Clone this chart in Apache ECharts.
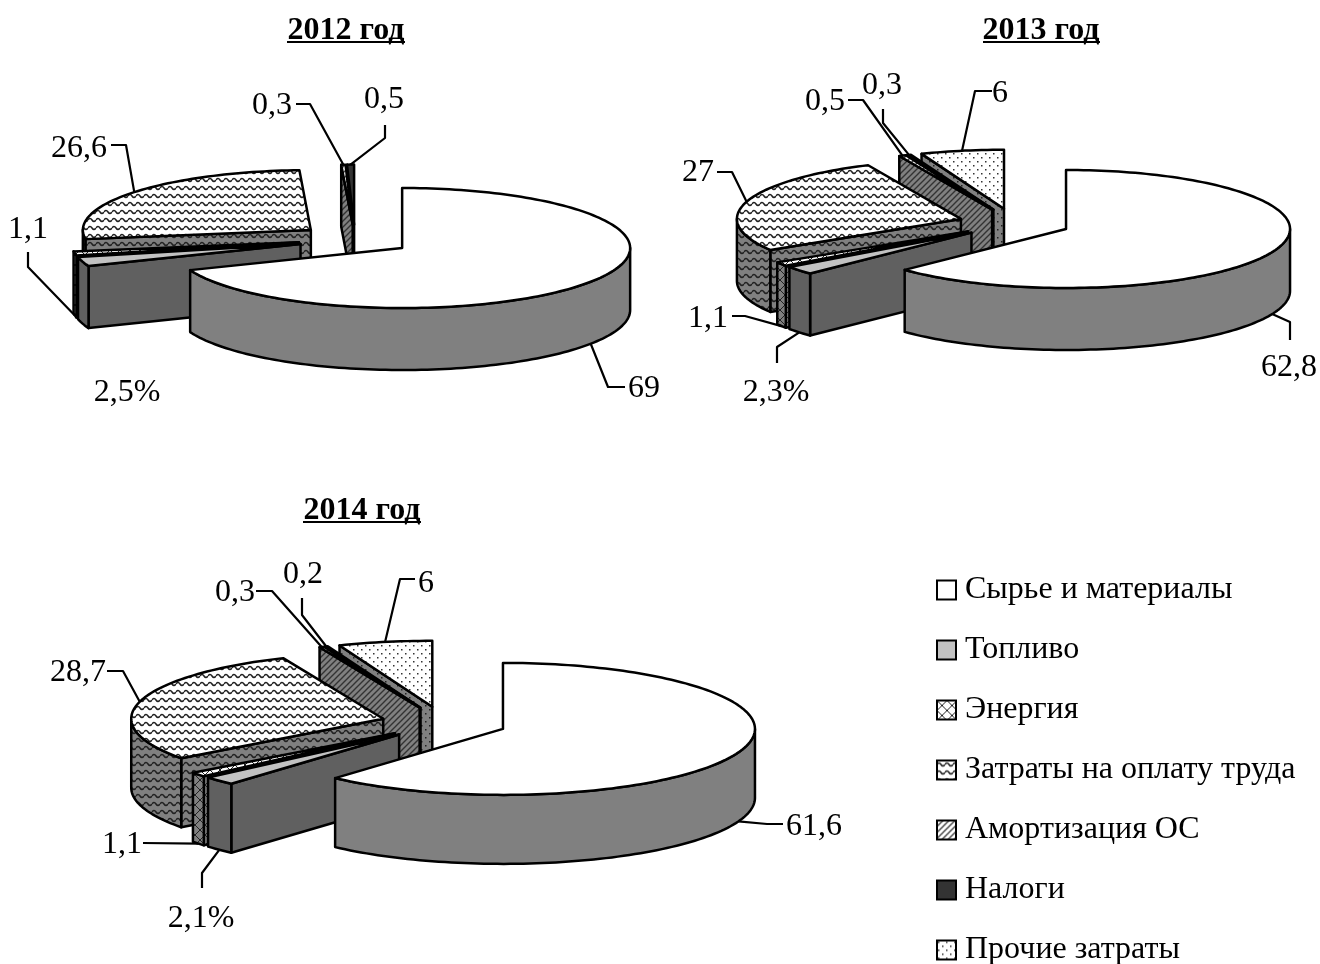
<!DOCTYPE html>
<html>
<head>
<meta charset="utf-8">
<title>Структура затрат</title>
<style>html,body{margin:0;padding:0;background:#fff}#chart{width:1320px;height:964px}</style>
<script src="https://cdn.jsdelivr.net/npm/echarts@6/dist/echarts.min.js"></script>
</head>
<body>
<div id="chart"></div>
<script>
// Cost structure by year, percent of total
const categories = ['Сырье и материалы', 'Топливо', 'Энергия', 'Затраты на оплату труда', 'Амортизация ОС', 'Налоги', 'Прочие затраты'];
const years = ['2012 год', '2013 год', '2014 год'];
const shares2012 = [69, 2.5, 1.1, 26.6, 0.3, 0.5, 0];
const shares2013 = [62.8, 2.3, 1.1, 27, 0.5, 0.3, 6];
const shares2014 = [61.6, 2.1, 1.1, 28.7, 0.3, 0.2, 6];
const sharesByYear = [shares2012, shares2013, shares2014];

// Pie geometry in pixels: ellipse centre, radii, wall height, slice explosion
const pieGeometry = [
  { cx: 355, cy: 239.6, rx: 228, ry: 60, h: 62, burst: 57 },
  { cx: 1014.5, cy: 223.2, rx: 224, ry: 59, h: 62, burst: 56 },
  { cx: 444.1, cy: 723, rx: 252, ry: 66, h: 69, burst: 63 }
];
const titlePlacement = [
  { x: 346, y: 29, u: [287, 405] },
  { x: 1041, y: 29, u: [983, 1100] },
  { x: 362, y: 509, u: [303, 421] }
];
// Label centre and the leader's fixed points; the leader's last point comes from the slice
const labelPlacement = [
  [
    { at: [644, 389], path: [[625, 387], [608, 387]] },
    { at: [127, 393], path: [] },
    { at: [28, 230], path: [[28, 252], [28, 267]] },
    { at: [79, 149], path: [[111, 145], [126, 145]] },
    { at: [272, 106], path: [[296, 104], [310, 104]] },
    { at: [384, 100], path: [[385, 125], [385, 138]] },
    null
  ],
  [
    { at: [1289, 368], path: [[1290, 340], [1290, 322]] },
    { at: [776, 393], path: [[777, 363], [777, 347]] },
    { at: [708, 319], path: [[732, 316], [745, 316]] },
    { at: [698, 173], path: [[717, 172], [732, 172]] },
    { at: [825, 102], path: [[848, 100], [863, 100]] },
    { at: [882, 86], path: [[883, 109], [883, 123]] },
    { at: [1000, 94], path: [[992, 91], [975, 91]] }
  ],
  [
    { at: [814, 827], path: [[783, 824], [767, 824]] },
    { at: [201, 919], path: [[202, 888], [202, 873]] },
    { at: [122, 845], path: [[143, 843]] },
    { at: [78, 673], path: [[107, 671], [123, 671]] },
    { at: [235, 593], path: [[256, 591], [272, 591]] },
    { at: [303, 575], path: [[302, 598], [302, 615]] },
    { at: [426, 584], path: [[415, 579], [400, 579]] }
  ]
];

const SERIF = '"Liberation Serif", "Times New Roman", serif';
const INK = '#000';
const EDGE = 2.5;

// Tiled fills, each painted on a small canvas
function tile(w, h, bg, draw) {
  const c = document.createElement('canvas');
  c.width = w; c.height = h;
  const g = c.getContext('2d');
  g.fillStyle = bg; g.fillRect(0, 0, w, h);
  draw(g);
  return { image: c, repeat: 'repeat' };
}
const wave = (bg, ink) => tile(8, 8, bg, g => {
  g.strokeStyle = ink; g.lineWidth = 1.5;
  g.beginPath();
  g.moveTo(0, 4);
  g.bezierCurveTo(1.3, 2, 2.7, 2, 4, 4);
  g.bezierCurveTo(5.3, 6, 6.7, 6, 8, 4);
  g.stroke();
});
const cross = (bg, ink) => tile(10, 10, bg, g => {
  g.strokeStyle = ink; g.lineWidth = 1;
  g.beginPath(); g.moveTo(0, 0); g.lineTo(10, 10); g.moveTo(10, 0); g.lineTo(0, 10); g.stroke();
});
const hatch = (bg, ink) => tile(6, 6, bg, g => {
  g.strokeStyle = ink; g.lineWidth = 1.4;
  g.beginPath(); g.moveTo(-1, 7); g.lineTo(7, -1); g.moveTo(-4, 4); g.lineTo(4, -4); g.moveTo(2, 10); g.lineTo(10, 2); g.stroke();
});
const dots = (bg, ink) => tile(8, 8, bg, g => {
  g.fillStyle = ink;
  g.fillRect(1, 1, 1.5, 1.5); g.fillRect(5, 5, 1.5, 1.5);
});

const topFills = ['#ffffff', '#c2c2c2', cross('#ffffff', '#222'), wave('#ffffff', '#222'), hatch('#ffffff', '#444'), '#333333', dots('#ffffff', '#333')];
const wallFills = ['#808080', '#606060', cross('#808080', '#222'), wave('#808080', '#222'), hatch('#808080', '#333'), '#1a1a1a', dots('#808080', '#222')];

const rad = d => d * Math.PI / 180;
// Screen point of a clock angle (0 = up, clockwise) on a slice's top ellipse
function rim(p, apex, deg) {
  return [apex[0] + p.rx * Math.sin(rad(deg)), apex[1] - p.ry * Math.cos(rad(deg))];
}
function arc(p, apex, from, to, dy) {
  const pts = [];
  const n = Math.max(2, Math.ceil(Math.abs(to - from) / 1.5));
  for (let i = 0; i <= n; i++) {
    const q = rim(p, apex, from + (to - from) * i / n);
    pts.push([q[0], q[1] + dy]);
  }
  return pts;
}
const outlined = (points, fill) => ({
  type: 'polygon',
  shape: { points },
  style: { fill, stroke: INK, lineWidth: EDGE, lineJoin: 'round' },
  silent: true
});
const formatShare = (v, cat) => String(v).replace('.', ',') + (cat === 1 ? '%' : '');

function renderSlice(cat) {
  return function (params, api) {
    const yearIdx = api.value(0);
    const value = api.value(1);
    if (!value) return null;
    const a0 = api.value(2) * 3.6;
    const a1 = a0 + value * 3.6;
    const mid = (a0 + a1) / 2;
    const p = pieGeometry[yearIdx];
    const apex = [
      p.cx + p.burst * Math.sin(rad(mid)),
      p.cy - p.burst * Math.cos(rad(mid)) * p.ry / p.rx
    ];
    const children = [];
    const face = deg => {
      const o = rim(p, apex, deg);
      return outlined([apex, o, [o[0], o[1] + p.h], [apex[0], apex[1] + p.h]], wallFills[cat]);
    };
    // Cut faces turned to the viewer, then the outer wall, then the top
    if (a1 > 0 && a1 < 180) children.push(face(a1));
    if (a0 > 180 && a0 < 360) children.push(face(a0));
    const w0 = Math.max(a0, 90), w1 = Math.min(a1, 270);
    if (w1 > w0) {
      children.push(outlined(arc(p, apex, w0, w1, 0).concat(arc(p, apex, w1, w0, p.h)), wallFills[cat]));
    }
    children.push(outlined([apex].concat(arc(p, apex, a0, a1, 0)), topFills[cat]));

    const place = labelPlacement[yearIdx][cat];
    if (place) {
      if (place.path.length) {
        const m = rim(p, apex, mid);
        const front = mid > 90 && mid < 270;
        const anchor = [m[0], m[1] + (front ? p.h : 0)];
        children.push({
          type: 'polyline',
          shape: { points: place.path.concat([anchor]) },
          style: { fill: null, stroke: INK, lineWidth: 2.2, lineJoin: 'round' },
          silent: true
        });
      }
      children.push({
        type: 'text',
        x: place.at[0], y: place.at[1],
        style: {
          text: formatShare(value, cat),
          fill: INK,
          font: '32px ' + SERIF,
          align: 'center',
          verticalAlign: 'middle'
        },
        silent: true
      });
    }
    return { type: 'group', children };
  };
}

// One series per cost item, painted from the back slice to the front one
function cumulative(yearIdx, cat) {
  let sum = 0;
  for (let i = 0; i < cat; i++) sum += sharesByYear[yearIdx][i];
  return sum;
}
const series = categories.map((name, cat) => ({
  type: 'custom',
  name,
  coordinateSystem: 'none',
  silent: true,
  animation: false,
  itemStyle: { color: topFills[cat], borderColor: INK, borderWidth: 2 },
  renderItem: renderSlice(cat),
  data: sharesByYear.map((row, y) => [y, row[cat], cumulative(y, cat)])
})).reverse();

const chart = echarts.init(document.getElementById('chart'), null, { renderer: 'canvas' });
chart.setOption({
  backgroundColor: '#fff',
  animation: false,
  title: years.map((text, i) => ({
    text,
    left: titlePlacement[i].x,
    top: titlePlacement[i].y - 14,
    textAlign: 'center',
    padding: 0,
    textStyle: { fontFamily: SERIF, fontWeight: 'bold', fontSize: 32, color: INK }
  })),
  legend: {
    orient: 'vertical',
    left: 936,
    top: 574,
    height: 430,
    padding: 0,
    itemWidth: 19,
    itemHeight: 19,
    itemGap: 28,
    selectedMode: false,
    textStyle: { fontFamily: SERIF, fontSize: 32, color: INK, padding: [0, 0, 0, 4] },
    data: categories.map((name, cat) => ({
      name,
      icon: 'rect',
      itemStyle: { color: topFills[cat], borderColor: INK, borderWidth: 2 }
    }))
  },
  graphic: titlePlacement.map(t => ({
    type: 'line',
    shape: { x1: t.u[0], y1: t.y + 13, x2: t.u[1], y2: t.y + 13 },
    style: { stroke: INK, lineWidth: 2 },
    silent: true
  })),
  series
});
</script>
</body>
</html>
